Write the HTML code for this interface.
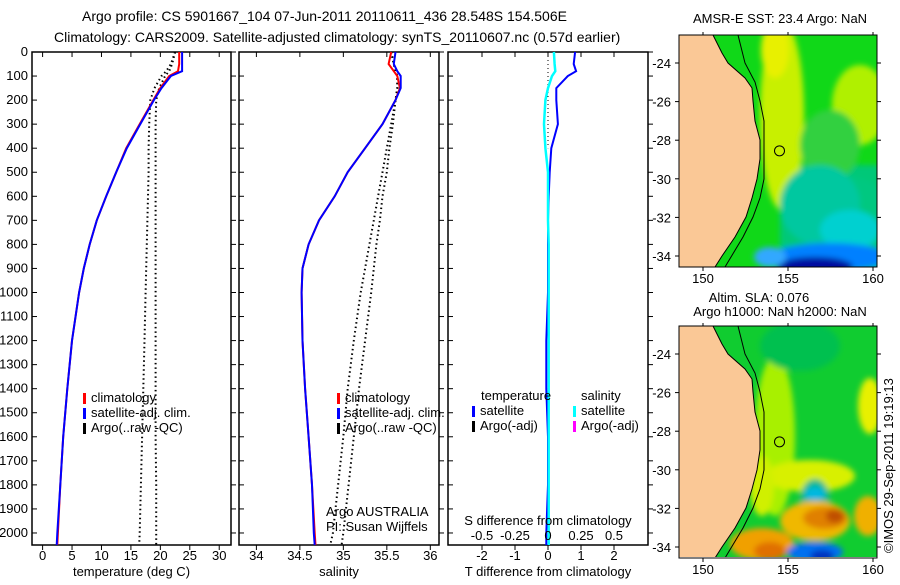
<!DOCTYPE html>
<html><head><meta charset="utf-8"><style>
body{margin:0;background:#fff;font-family:"Liberation Sans",sans-serif}
svg text{font-family:"Liberation Sans",sans-serif;font-size:13px;fill:#000}
</style></head><body>
<svg id="s" width="900" height="580" xmlns="http://www.w3.org/2000/svg">
<defs>
<clipPath id="c0"><rect x="679" y="35" width="198" height="232"/></clipPath>
<clipPath id="c1"><rect x="679" y="326" width="198" height="231"/></clipPath>
<filter id="bl"><feGaussianBlur stdDeviation="3"/></filter>
</defs>
<text x="82" y="21" style="font-size:14px">Argo profile: CS 5901667_104 07-Jun-2011 20110611_436 28.548S 154.506E</text>
<text x="54" y="42" style="font-size:14px">Climatology: CARS2009. Satellite-adjusted climatology: synTS_20110607.nc (0.57d earlier)</text>
<text x="0" y="0" transform="translate(893,553) rotate(-90)">©IMOS 29-Sep-2011 19:19:13</text>
</svg>
<script>
// depth grid (m)
const depths=[0,50,80,100,150,200,300,400,500,600,700,800,900,1000,1200,1400,1600,1800,2000,2050];
const tempClim=[23.2,23.2,23.0,21.5,20.0,18.8,16.5,14.2,12.5,10.8,9.2,8.0,7.0,6.2,5.0,4.2,3.5,3.0,2.6,2.5];
const tempSat=[23.7,23.7,23.7,21.8,20.2,18.9,16.6,14.3,12.5,10.8,9.2,8.0,7.0,6.2,5.0,4.2,3.5,3.0,2.5,2.4];
const tempArgoRaw=[22.5,21.8,21.0,20.2,19.0,18.3,18.1,18.0,18.0,17.9,17.8,17.7,17.6,17.5,17.3,17.1,16.9,16.7,16.5,16.4];
const tempArgoQC=[22.5,22.0,21.5,20.8,19.8,19.3,19.2,19.2,19.2,19.2,19.2,19.2,19.2,19.2,19.2,19.2,19.2,19.3,19.3,19.3];
const salClim=[35.55,35.52,35.58,35.62,35.65,35.6,35.45,35.25,35.05,34.9,34.72,34.6,34.53,34.52,34.53,34.56,34.6,34.64,34.67,34.68];
const salSat=[35.6,35.58,35.62,35.66,35.66,35.6,35.45,35.25,35.05,34.9,34.72,34.6,34.53,34.52,34.53,34.56,34.6,34.64,34.66,34.67];
const salArgoRaw=[35.55,35.58,35.6,35.62,35.62,35.6,35.55,35.5,35.45,35.4,35.35,35.3,35.25,35.2,35.12,35.05,35.0,34.94,34.88,34.85];
const salArgoQC=[35.55,35.58,35.6,35.62,35.62,35.6,35.57,35.53,35.5,35.45,35.42,35.38,35.35,35.32,35.25,35.18,35.12,35.06,35.0,34.98];
const tDiffSat=[0.82,0.78,0.85,0.6,0.25,0.25,0.3,0.1,0.05,0.02,0.0,0.0,0.0,0.0,-0.05,-0.05,0.0,0.0,-0.05,-0.05];
const sDiffSat=[0.045,0.05,0.055,0.03,0.0,-0.02,-0.03,-0.02,0.0,0.0,0.0,0.005,0.005,0.005,0.005,0.005,0.005,0.005,0.005,0.005];
const depthTicks=[0,100,200,300,400,500,600,700,800,900,1000,1100,1200,1300,1400,1500,1600,1700,1800,1900,2000];
const tTicks=[0,5,10,15,20,25,30];
const sTicks=[34,34.5,35,35.5,36];
const dTicks=[-2,-1,0,1,2];
const sdTicks=[-0.5,-0.25,0,0.25,0.5];
const sdTickLabels=["-0.5","-0.25","0","0.25","0.5"];

const NS='http://www.w3.org/2000/svg';
const svg=document.getElementById('s');
function mk(tag,attrs,parent){const e=document.createElementNS(NS,tag);for(const k in attrs)e.setAttribute(k,attrs[k]);(parent||svg).appendChild(e);return e;}
const top0=52,bot=545;
const yD=d=>top0+(d/2050)*(bot-top0);
const panels=[
 {x0:32,x1:231,v0:-1.8,v1:32.0,ticks:tTicks,labels:tTicks.map(String),title:'temperature (deg C)'},
 {x0:239,x1:439,v0:33.8,v1:36.1,ticks:sTicks,labels:sTicks.map(String),title:'salinity'},
 {x0:448,x1:648,v0:-3.03,v1:3.03,ticks:dTicks,labels:dTicks.map(String),title:'T difference from climatology'}
];
panels.forEach((p,i)=>{
 p.x=v=>p.x0+(v-p.v0)/(p.v1-p.v0)*(p.x1-p.x0);
 const f=mk('rect',{x:p.x0,y:top0,width:p.x1-p.x0,height:bot-top0,fill:'none',stroke:'#000','stroke-width':1.5});
 
 
 p.ticks.forEach((t,j)=>{
  const tx=p.x(t);
  mk('line',{x1:tx,x2:tx,y1:bot,y2:bot+5,stroke:'#000'});
  mk('line',{x1:tx,x2:tx,y1:top0,y2:top0+5,stroke:'#000'});
  const l=mk('text',{x:tx,y:bot+15,'text-anchor':'middle'});l.textContent=p.labels[j];
  
  
 });
 depthTicks.forEach(d=>{
  mk('line',{x1:p.x0,x2:p.x0+5,y1:yD(d),y2:yD(d),stroke:'#000'});
  mk('line',{x1:p.x1,x2:p.x1+5,y1:yD(d),y2:yD(d),stroke:'#000'});
  if(i===0){const l=mk('text',{x:28,y:yD(d)+4,'text-anchor':'end'});l.textContent=d;
   
   }
 });
 const t=mk('text',{x:(p.x0+p.x1)/2,y:576,'text-anchor':'middle'});t.textContent=p.title;
 
 
});
function line(p,vals,color,w,dash,name){
 const pts=vals.map((v,k)=>p.x(v).toFixed(1)+','+yD(depths[k]).toFixed(1)).join(' ');
 const a={points:pts,fill:'none',stroke:color,'stroke-width':w};
 if(dash)a['stroke-dasharray']=dash;
 const e=mk('polyline',a);
 
 
}
const P=panels;
line(P[0],tempArgoRaw,'#000',2,'1.5,3','temp-argo-raw');
line(P[0],tempArgoQC,'#000',2,'1.5,3','temp-argo-qc');
line(P[0],tempClim,'#f00',2,null,'temp-climatology');
line(P[0],tempSat,'#00f',2,null,'temp-satellite-adj');
line(P[1],salArgoRaw,'#000',2,'1.5,3','sal-argo-raw');
line(P[1],salArgoQC,'#000',2,'1.5,3','sal-argo-qc');
line(P[1],salClim,'#f00',2,null,'sal-climatology');
line(P[1],salSat,'#00f',2,null,'sal-satellite-adj');
mk('line',{x1:P[2].x(0),x2:P[2].x(0),y1:top0,y2:yD(400),stroke:'#000','stroke-dasharray':'1,3'});
line(P[2],tDiffSat,'#00f',2,null,'temp-diff-satellite');
line(P[2],sDiffSat.map(v=>v*4),'#0ff',2.5,null,'sal-diff-satellite');
sdTicks.forEach((t,j)=>{const tx=P[2].x(t*4);
 const l=mk('text',{x:tx,y:540,'text-anchor':'middle'});l.textContent=sdTickLabels[j];
 
 });
function txt(x,y,s,name,extra){const l=mk('text',Object.assign({x:x,y:y},extra||{}));l.textContent=s;
 
 return l;}
txt(548,525,'S difference from climatology','s-diff-axis-title',{'text-anchor':'middle'});
function legend(x,y,items,prefix){items.forEach((it,k)=>{
 mk('rect',{x:x,y:y+k*15-9,width:3,height:11,fill:it[0]});
 txt(x+8,y+k*15,it[1],prefix+'-legend-entry');});}
legend(83,402,[['#f00','climatology'],['#00f','satellite-adj. clim.'],['#000','Argo(..raw -QC)']],'temp');
legend(337,402,[['#f00','climatology'],['#00f','satellite-adj. clim.'],['#000','Argo(..raw -QC)']],'sal');
txt(481,400,'temperature','diff-legend-header');txt(581,400,'salinity','diff-legend-header');
legend(472,415,[['#00f','satellite'],['#000','Argo(-adj)']],'tdiff');
legend(573,415,[['#0ff','satellite'],['#f0f','Argo(-adj)']],'sdiff');
txt(326,516,'Argo AUSTRALIA','argo-country');txt(326,531,'PI: Susan Wijffels','argo-pi');

// Maps
const mapTitles=[['AMSR-E SST: 23.4  Argo: NaN'],['Altim. SLA: 0.076','Argo h1000: NaN  h2000: NaN']];
const mapY=[35,326];
const lonTicks=[150,155,160], latTicks=[-24,-26,-28,-30,-32,-34];
const mx0=679,mx1=877,mh=232;
const lonX=l=>703+(l-150)*17;
const latY=(y0,l)=>y0+28+(-24-l)*19.3;
// [color, cx, cy(rel), rx, ry]
const blobsSST=[['#c8f000',782,80,22,95],['#e8f000',775,15,14,28],['#b0f000',860,70,28,40],['#30d040',830,110,30,35],['#00c880',840,175,50,35],['#00c8a0',820,170,40,40],['#00d0d0',850,195,30,20],['#0080ff',830,222,60,14],['#0010a0',815,232,38,10],['#30a8ff',770,222,16,10]];
const blobsSLA=[['#a8f000',775,110,20,80],['#d8f000',810,150,45,16],['#00b890',815,175,15,22],['#00b8e0',815,168,10,7],['#f0b800',815,195,35,20],['#e08000',825,192,22,11],['#c05000',835,190,9,7],['#f0a000',762,218,32,16],['#e07000',770,225,16,9],['#0070f0',815,226,28,10],['#0030c0',822,230,12,6],['#f0b000',868,190,14,20],['#e8f000',870,80,12,28],['#d0f000',762,160,12,30],['#00c050',800,20,40,25]];
[0,1].forEach(m=>{
 const y0=mapY[m];const g=mk('g',{'clip-path':'url(#c'+m+')'});
 
 
 mk('rect',{x:mx0,y:y0,width:mx1-mx0,height:mh,fill:m?'#10cc30':'#10d818'},g);
 const bg=mk('g',{filter:'url(#bl)'},g);
 if(!m){mk('rect',{x:780,y:y0+130,width:100,height:110,fill:'#00c878'},bg);}
 (m?blobsSLA:blobsSST).forEach(b=>{mk('ellipse',{cx:b[1],cy:y0+b[2],rx:b[3],ry:b[4],fill:b[0]},bg);});
 const land=[[mx0,0],[713,0],[722,18],[728,28],[745,43],[752,53],[753,66],[755,86],[760,105],[760,124],[757,144],[752,163],[746,182],[735,202],[722,221],[715,mh],[mx0,mh]];
 mk('polygon',{points:land.map(p=>p[0]+','+(y0+p[1])).join(' '),fill:'#fac896',stroke:'#000','stroke-width':1},g);
 mk('polyline',{points:'738,'+y0+' 745,'+(y0+28)+' 755,'+(y0+47)+' 760,'+(y0+66)+' 764,'+(y0+86)+' 764,'+(y0+144)+' 760,'+(y0+163)+' 753,'+(y0+182)+' 743,'+(y0+202)+' 725,'+(y0+mh),fill:'none',stroke:'#000','stroke-width':1},g);
 mk('circle',{cx:lonX(154.5),cy:latY(y0,-28.55),r:5,fill:'none',stroke:'#000'},g);
 mk('rect',{x:mx0,y:y0,width:mx1-mx0,height:mh,fill:'none',stroke:'#000'});
 lonTicks.forEach(l=>{mk('line',{x1:lonX(l),x2:lonX(l),y1:y0+mh,y2:y0+mh+4,stroke:'#000'});
  mk('line',{x1:lonX(l),x2:lonX(l),y1:y0,y2:y0-3,stroke:'#000'});
  txt(lonX(l),y0+mh+16,String(l),'lon-tick-label',{'text-anchor':'middle'});});
 latTicks.forEach(l=>{const yy=latY(y0,l);mk('line',{x1:mx0,x2:mx0-4,y1:yy,y2:yy,stroke:'#000'});mk('line',{x1:mx1,x2:mx1+4,y1:yy,y2:yy,stroke:'#000'});
  txt(mx0-8,yy+5,String(l),'lat-tick-label',{'text-anchor':'end'});});
});
txt(780,23,mapTitles[0][0],'map-title',{'text-anchor':'middle'});
txt(759,302,mapTitles[1][0],'map-title',{'text-anchor':'middle'});
txt(780,316,mapTitles[1][1],'map-title',{'text-anchor':'middle'});
</script>
</body></html>
